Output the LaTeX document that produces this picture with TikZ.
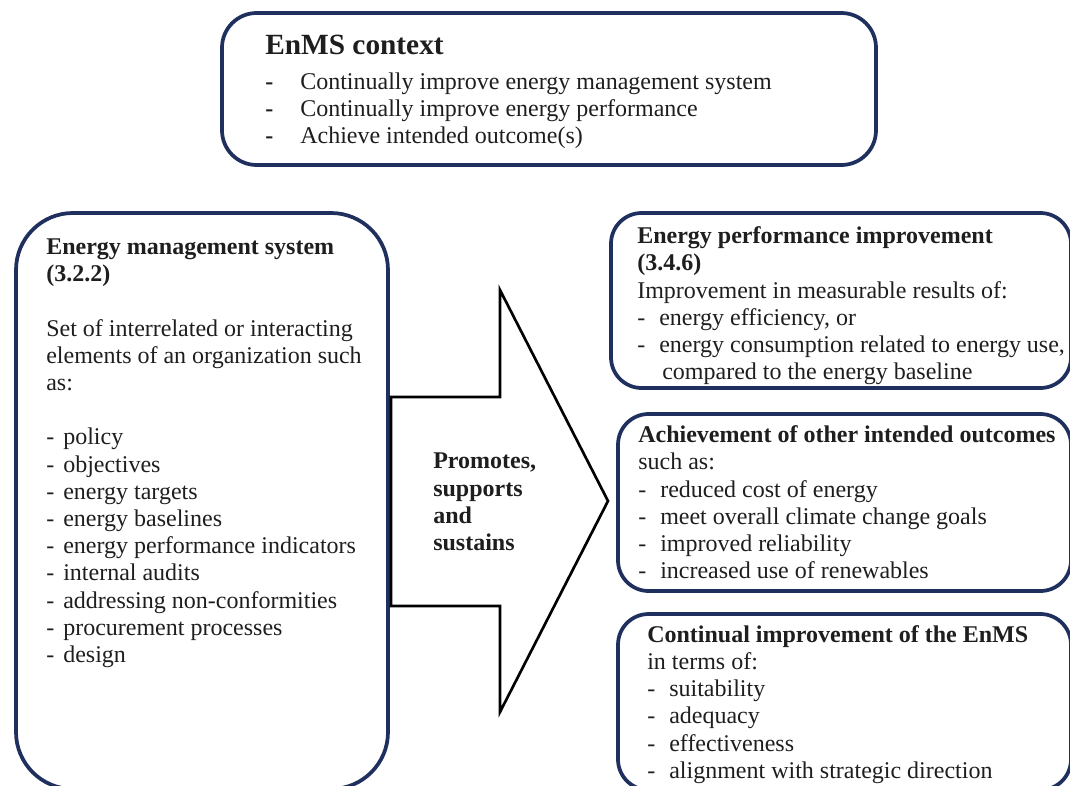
\documentclass[tikz,border=0pt]{standalone}
\usepackage{fontspec}
\setmainfont{Liberation Serif}
\usepackage{xcolor}
\usetikzlibrary{positioning}
\definecolor{enmsblue}{RGB}{31,48,94}
\definecolor{enmstext}{RGB}{30,30,30}
\newcommand{\enitem}[2][16.5pt]{\makebox[#1][l]{-}#2}
\newcommand{\ctxitem}[1]{\makebox[26.25pt][l]{\textbf{-}}#1}
\tikzset{
  framebox/.style={
    rectangle,
    draw=enmsblue,
    line width=2.8pt,
    outer sep=0pt,
    inner sep=0pt
    },
  body/.style={
    align=left,
    inner sep=0pt,
    text=enmstext,
    font=\fontsize{18}{20.4}\selectfont
    },
  promote/.style={draw=black, line width=2pt, line join=miter},
}

\begin{document}
\begin{tikzpicture}[x=0.75pt, y=-0.75pt]
\useasboundingbox (0,0) rectangle (1070,785);

% frames
\node (ctx) [framebox, rounded corners=26pt, minimum width=490.5pt, minimum height=114pt] at (549,89) {};
\node (ems) [framebox, rounded corners=42.75pt, minimum width=279pt, minimum height=432pt] at (202,501) {};
\node (perf) [framebox, rounded corners=23pt, minimum width=345pt, minimum height=131.25pt] at (841,300.5) {};
\node (outc) [framebox, rounded corners=23pt, minimum width=339.75pt, minimum height=132.75pt] at (844.5,502.5) {};
\node (cont) [framebox, rounded corners=23pt, minimum width=339.75pt, minimum height=132pt] at (844.5,702) {};

% big arrow
\draw [promote] (391,397) -- (500,397) -- (500,290) -- (608,501) -- (500,712) -- (500,606) -- (391,606) -- cycle;
\node (promtext) [body, font=\fontsize{18}{20.4}\selectfont\bfseries, anchor=north west] at (433,453) {Promotes,\\ supports\\ and\\ sustains};

% texts
\node (ctxhead) [body, font=\fontsize{22}{26}\selectfont\bfseries, below right=16.65pt and 32.25pt of ctx.north west] {EnMS context};
\node (ctxlist) [body, below right=44.4pt and 32.25pt of ctx.north west] {\ctxitem{Continually improve energy management system}\\ \ctxitem{Continually improve energy performance}\\ \ctxitem{Achieve intended outcome(s)}};

\node (emstext) [body, below right=19.2pt and 22.5pt of ems.north west] {\textbf{Energy management system}\\ \textbf{(3.2.2)}\\[20.4pt] Set of interrelated or interacting\\ elements of an organization such\\ as:\\[20.4pt] \enitem[12.75pt]{policy}\\ \enitem[12.75pt]{objectives}\\ \enitem[12.75pt]{energy targets}\\ \enitem[12.75pt]{energy baselines}\\ \enitem[12.75pt]{energy performance indicators}\\ \enitem[12.75pt]{internal audits}\\ \enitem[12.75pt]{addressing non-conformities}\\ \enitem[12.75pt]{procurement processes}\\ \enitem[12.75pt]{design}};

\node (perftext) [body, below right=10.2pt and 19.5pt of perf.north west] {\textbf{Energy performance improvement}\\ \textbf{(3.4.6)}\\ Improvement in measurable results of:\\ \enitem{energy efficiency, or}\\ \enitem{energy consumption related to energy use,}\\ \hspace*{18.75pt}compared to the energy baseline};

\node (outctext) [body, below right=8.7pt and 15pt of outc.north west] {\textbf{Achievement of other intended outcomes}\\ such as:\\ \enitem{reduced cost of energy}\\ \enitem{meet overall climate change goals}\\ \enitem{improved reliability}\\ \enitem{increased use of renewables}};

\node (conttext) [body, below right=8.3pt and 21.75pt of cont.north west] {\textbf{Continual improvement of the EnMS}\\ in terms of:\\ \enitem{suitability}\\ \enitem{adequacy}\\ \enitem{effectiveness}\\ \enitem{alignment with strategic direction}};

\end{tikzpicture}
\end{document}
